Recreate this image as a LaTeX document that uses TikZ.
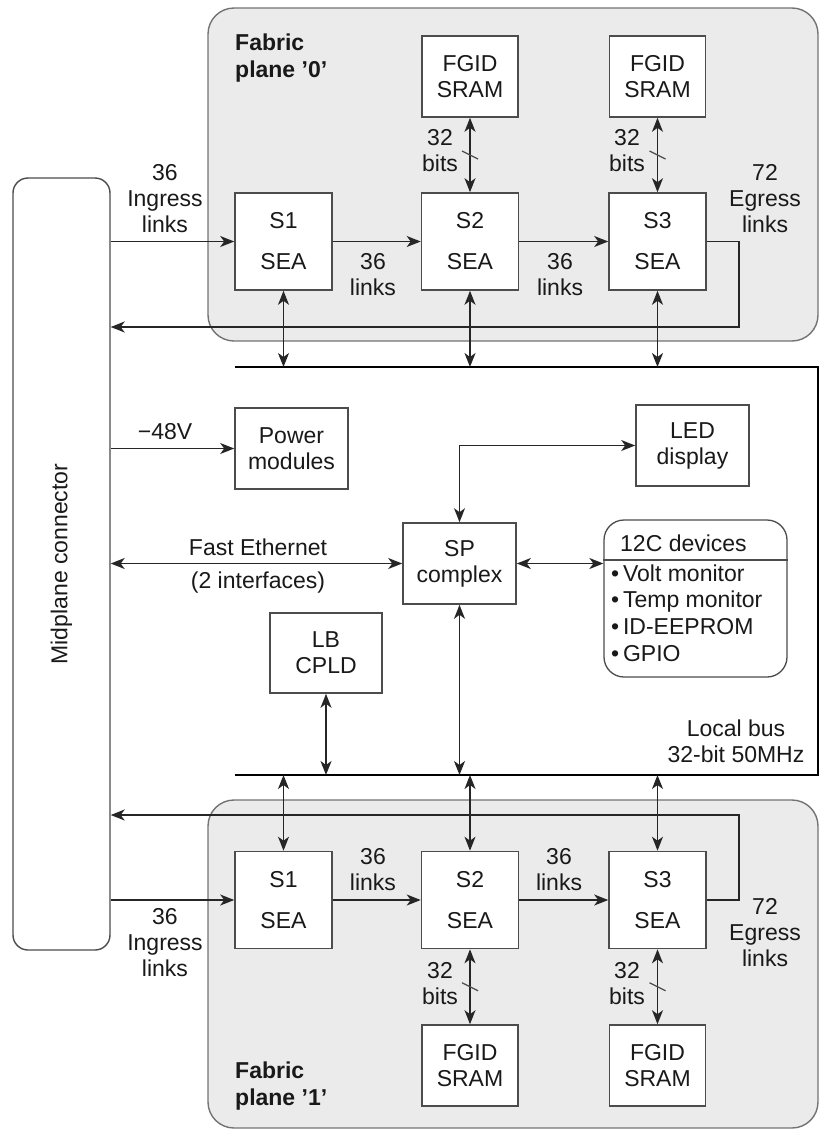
\documentclass[tikz,border=0pt]{standalone}
\usepackage{fontspec}
\setmainfont{Liberation Sans}
\usetikzlibrary{arrows.meta}
\begin{document}
\begin{tikzpicture}[x=1pt,y=-1pt,
 >={Stealth[length=14pt,width=11pt,inset=4pt]},
 every node/.style={font=\fontsize{23}{26}\selectfont, text=black!90},
 blk/.style={draw=black!70, line width=1.6pt, fill=white, align=center, inner sep=0pt},
 sea/.style={blk, minimum width=97pt, minimum height=97pt},
 ram/.style={blk, minimum width=96pt, minimum height=81pt},
 mid/.style={blk, minimum width=113pt, minimum height=81pt},
 plane/.style={draw=black!55, line width=1.4pt, fill=black!8, rounded corners=26pt, minimum width=610pt},
 lbl/.style={align=center, inner sep=0pt},
 plbl/.style={anchor=west, align=left, inner sep=0pt, font=\fontsize{23}{27}\selectfont\bfseries},
 arr/.style={->, line width=1.5pt, draw=black!85},
 darr/.style={<->, line width=1.5pt, draw=black!85},
 bus/.style={line width=2.2pt, draw=black},
 slashmark/.style={line width=1.3pt, draw=black!70},
]
\useasboundingbox (0,0) rectangle (828,1130);

% fabric planes
\node[plane, minimum height=333pt] (pl0) at (513,174.5) {};
\node[plane, minimum height=328pt] (pl1) at (513,964) {};
\node[plbl] (fp0) at (235,58) {Fabric\\plane '0'};
\node[plbl] (fp1) at (235,1086) {Fabric\\plane '1'};

% midplane connector
\node[blk, line width=1.4pt, rounded corners=15pt, minimum width=97pt, minimum height=772pt] (mp) at (61.5,564) {};
\node[rotate=90, inner sep=0pt] (mptxt) at (mp.center) {Midplane connector};

% top plane blocks
\node[sea] (s1a) at (283.5,241.5) {S1\\[15pt]SEA};
\node[sea] (s2a) at (470,241.5) {S2\\[15pt]SEA};
\node[sea] (s3a) at (657.5,241.5) {S3\\[15pt]SEA};
\node[ram] (r2a) at (470,76.5) {FGID\\SRAM};
\node[ram] (r3a) at (657.5,76.5) {FGID\\SRAM};

% bottom plane blocks
\node[sea] (s1b) at (283.5,900) {S1\\[15pt]SEA};
\node[sea] (s2b) at (470,900) {S2\\[15pt]SEA};
\node[sea] (s3b) at (657.5,900) {S3\\[15pt]SEA};
\node[ram] (r2b) at (470,1065.5) {FGID\\SRAM};
\node[ram] (r3b) at (657.5,1065.5) {FGID\\SRAM};

% middle blocks
\node[mid] (pwr) at (291.5,448.5) {Power\\modules};
\node[mid] (led) at (692.5,445.5) {LED\\display};
\node[mid] (sp) at (459.5,563.5) {SP\\complex};
\node[mid, minimum width=112pt, minimum height=80pt] (lb) at (326,653) {LB\\CPLD};
\node[blk, line width=1.3pt, rounded corners=20pt, minimum width=183pt, minimum height=157pt] (i2c) at (695.5,598.5) {};
\coordinate (i2csep) at (0,560);
\draw[draw=black!70, line width=1.1pt] (i2c.west |- i2csep) -- (i2c.east |- i2csep);
\node[anchor=west, inner sep=0pt] (i2ct) at (620,543) {12C devices};
\node[anchor=west, align=left, inner sep=0pt, font=\fontsize{23}{26.7}\selectfont] (i2cl) at (611,613)
  {\textbullet\,Volt monitor\\\textbullet\,Temp monitor\\\textbullet\,ID-EEPROM\\\textbullet\,GPIO};

% local bus
\coordinate (btl) at (235,367);
\coordinate (btr) at (818,367);
\coordinate (bbr) at (818,775);
\coordinate (bbl) at (235,775);
\draw[bus] (btl) -- (btr) -- (bbr) -- (bbl);
\node[lbl] (lbus) at (736,741) {Local bus\\32-bit 50MHz};

% top plane connectors
\draw[arr] (mp.east |- s1a.west) -- (s1a.west);
\draw[arr] (s1a.east) -- (s2a.west);
\draw[arr] (s2a.east) -- (s3a.west);
\coordinate (eg0) at (739,327);
\draw[arr] (s3a.east) -| (eg0) -- (mp.east |- eg0);
\draw[darr] (s1a.south) -- (s1a.south |- btl);
\draw[darr] (s2a.south) -- (s2a.south |- btl);
\draw[darr] (s3a.south) -- (s3a.south |- btl);
\draw[darr] (r2a.south) -- (s2a.north) coordinate[pos=.5] (sl2a);
\draw[darr] (r3a.south) -- (s3a.north) coordinate[pos=.5] (sl3a);
\draw[slashmark] (sl2a) ++(-8,-4) -- ++(16,8);
\draw[slashmark] (sl3a) ++(-8,-4) -- ++(16,8);

\node[lbl] (ing0) at (165,199) {36\\Ingress\\links};
\node[lbl] (l12a) at (373,275) {36\\links};
\node[lbl] (l23a) at (560,275) {36\\links};
\node[lbl] (egr0) at (765,199) {72\\Egress\\links};
\node[lbl] (b2a) at (440,151) {32\\bits};
\node[lbl] (b3a) at (627,151) {32\\bits};

% middle connectors
\draw[arr] (mp.east |- pwr.west) -- (pwr.west);
\node[lbl] (v48) at (165,432) {−48V};
\draw[darr] (sp.north) |- (led.west);
\draw[darr] (mp.east |- sp.west) -- (sp.west);
\node[lbl] (fe1) at (258,547) {Fast Ethernet};
\node[lbl] (fe2) at (258,583) {(2 interfaces)};
\draw[darr] (sp.east) -- (sp.east -| i2c.west);
\draw[darr] (sp.south) -- (sp.south |- bbl);
\draw[darr] (lb.south) -- (lb.south |- bbl);

% bottom plane connectors
\draw[darr] (s1b.north |- bbl) -- (s1b.north);
\draw[darr] (s2b.north |- bbl) -- (s2b.north);
\draw[darr] (s3b.north |- bbl) -- (s3b.north);
\draw[arr] (mp.east |- s1b.west) -- (s1b.west);
\draw[arr] (s1b.east) -- (s2b.west);
\draw[arr] (s2b.east) -- (s3b.west);
\coordinate (eg1) at (739,815);
\draw[arr] (s3b.east) -| (eg1) -- (mp.east |- eg1);
\draw[darr] (s2b.south) -- (r2b.north) coordinate[pos=.5] (sl2b);
\draw[darr] (s3b.south) -- (r3b.north) coordinate[pos=.5] (sl3b);
\draw[slashmark] (sl2b) ++(-8,-4) -- ++(16,8);
\draw[slashmark] (sl3b) ++(-8,-4) -- ++(16,8);

\node[lbl] (ing1) at (165,943) {36\\Ingress\\links};
\node[lbl] (l12b) at (373,870) {36\\links};
\node[lbl] (l23b) at (559,870) {36\\links};
\node[lbl] (egr1) at (765,933) {72\\Egress\\links};
\node[lbl] (b2b) at (440,984) {32\\bits};
\node[lbl] (b3b) at (627,984) {32\\bits};
\end{tikzpicture}
\end{document}
